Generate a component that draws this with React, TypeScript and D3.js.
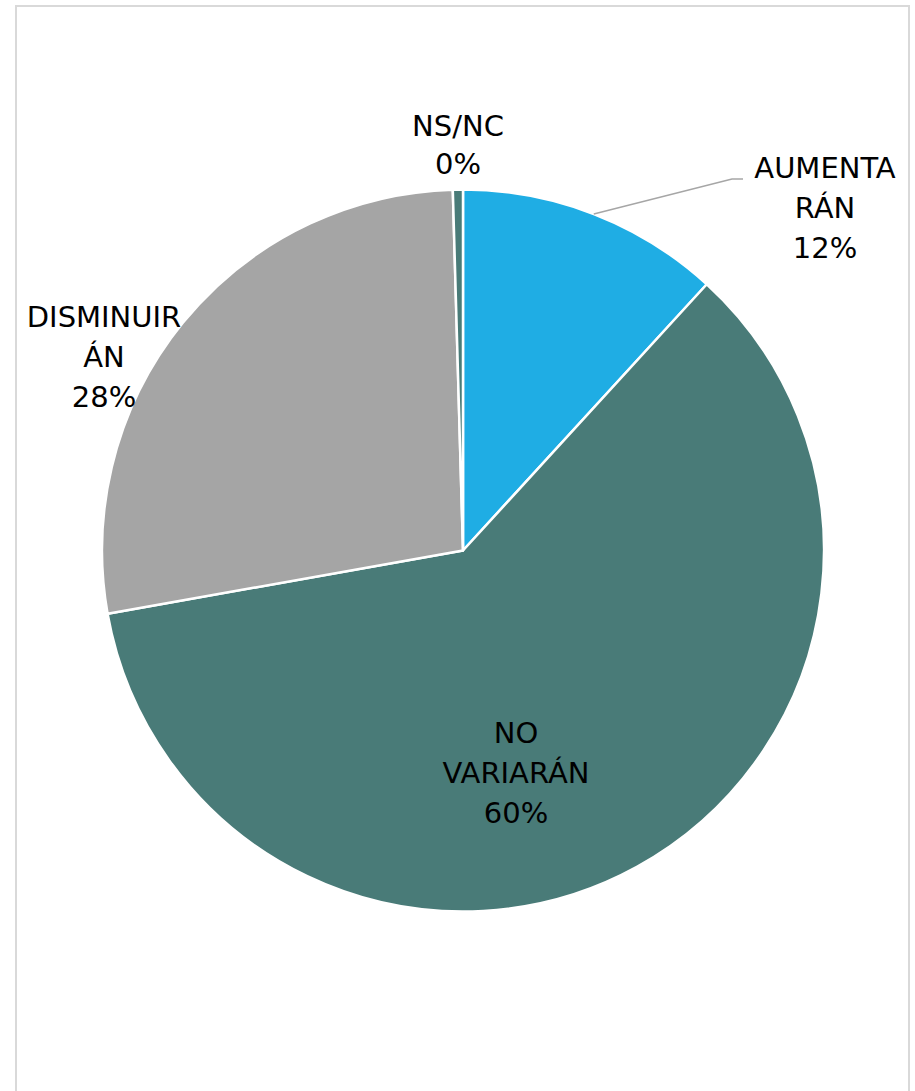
import React from "react";
import * as d3 from "d3";

const categories = ["AUMENTARÁN", "NO VARIARÁN", "DISMINUIRÁN", "NS/NC"];
const values = [11.8, 60.4, 27.35, 0.45];
const labelLines = [["AUMENTA", "RÁN", "12%"], ["NO", "VARIARÁN", "60%"], ["DISMINUIR", "ÁN", "28%"], ["NS/NC", "0%"]];
const colors = ["#1FADE4", "#497B78", "#A5A5A5", "#497B78"];

// layout for labels (center x, first baseline y)
const labelPos = [
  { x: 825, y: 178 },
  { x: 516, y: 743 },
  { x: 104, y: 327 },
  { x: 458, y: 136 },
];

const W = 915;
const H = 1091;
const cx = 463;
const cy = 550.5;
const R = 361;
const lineH = 40;

export default function App() {
  const pie = d3.pie<number>().sort(null).value((d) => d)(values);
  const arc = d3.arc<d3.PieArcDatum<number>>().innerRadius(0).outerRadius(R);
  const edgeArc = d3.arc<d3.PieArcDatum<number>>().innerRadius(R).outerRadius(R);

  // leader line for first slice
  const p0 = edgeArc.centroid(pie[0]);
  const leader = [
    [cx + p0[0], cy + p0[1]],
    [732, 179],
    [743, 179],
  ];

  return (
    <svg width={W} height={H} style={{ position: "absolute", left: 0, top: 0, background: "#fff" }}>
      <rect x={16} y={6} width={893} height={1110} fill="#fff" stroke="#D9D9D9" strokeWidth={2} />
      <g transform={`translate(${cx},${cy})`}>
        {pie.map((p, i) => (
          <path key={categories[i]} d={arc(p) || ""} fill={colors[i]} stroke="#fff" strokeWidth={2.5} strokeLinejoin="round" />
        ))}
      </g>
      <polyline points={leader.map((p) => p.join(",")).join(" ")} fill="none" stroke="#A6A6A6" strokeWidth={1.5} />
      {labelLines.map((lines, i) => (
        <text key={categories[i]} textAnchor="middle" fontFamily="DejaVu Sans" fontSize={29} fill="#000">
          {lines.map((l, j) => (
            <tspan key={j} x={labelPos[i].x} y={labelPos[i].y + j * (i === 3 ? 38 : lineH)}>
              {l}
            </tspan>
          ))}
        </text>
      ))}
    </svg>
  );
}
